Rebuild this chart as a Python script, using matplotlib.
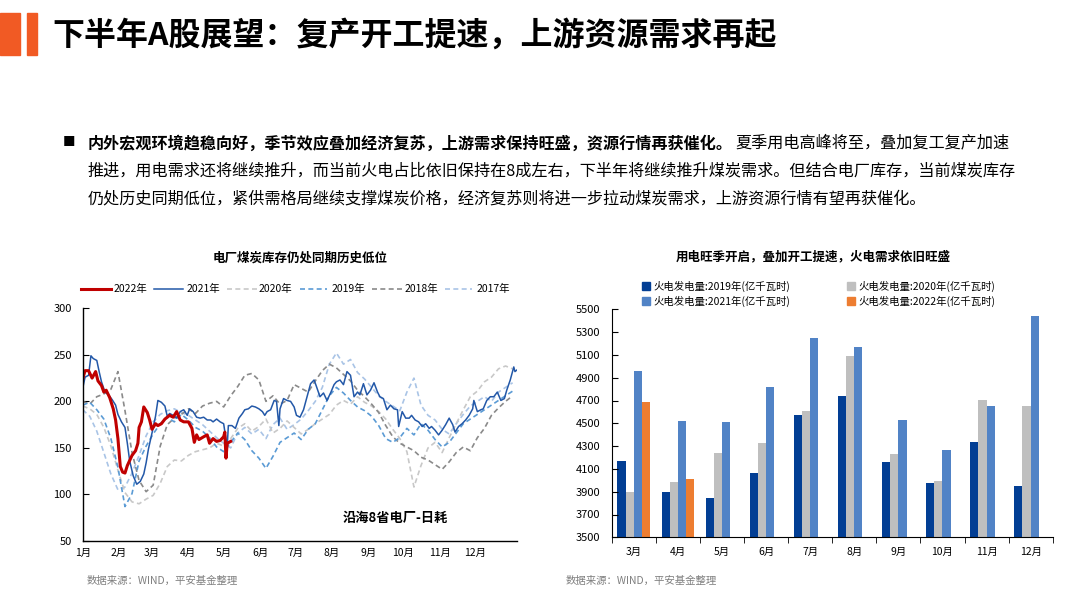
import matplotlib
matplotlib.use('Agg')
import matplotlib.pyplot as plt
import numpy as np
from matplotlib.patches import Rectangle
from matplotlib.lines import Line2D

plt.rcParams['font.family'] = ['Noto Sans CJK SC', 'DejaVu Sans']
plt.rcParams['axes.unicode_minus'] = False

# ---------------- data: left chart (coastal 8 provinces daily coal consumption) -------------
month_ticks_day = [0, 31, 59, 90, 120, 151, 181, 212, 243, 273, 304, 334]
month_labels = ['1月', '2月', '3月', '4月', '5月', '6月', '7月', '8月', '9月', '10月', '11月', '12月']

days_2022 = [0, 2, 5, 8, 11, 13, 16, 18, 20, 23, 26, 28, 30, 32, 34, 36, 38, 42, 45, 47, 48,
             50, 52, 55, 57, 59, 62, 64, 67, 70, 74, 77, 80, 83, 86, 90, 93, 95, 97, 99, 103,
             106, 108, 111, 114, 117, 120, 121, 122, 123, 126]
vals_2022 = [224, 233, 233, 225, 232, 222, 217, 210, 212, 204, 192, 180, 160, 130, 124, 123, 131, 142, 147, 155, 172,
             178, 194, 188, 180, 170, 176, 174, 176, 181, 185, 183, 189, 180, 178, 178, 171, 156, 164, 159, 162,
             164, 155, 160, 157, 158, 162, 167, 139, 155, 157]

days_2021 = [0, 2, 5, 7, 9, 12, 14, 16, 19, 22, 25, 28, 30, 33, 36, 38, 40, 43, 46, 49, 52, 54, 56, 59,
             62, 64, 67, 70, 72, 74, 77, 80, 83, 86, 89, 91, 94, 97, 100, 103, 106, 109, 111, 114, 117,
             120, 123, 124, 127, 130, 133, 136, 138, 141, 144, 147, 150, 153, 155, 157, 160, 163, 165,
             167, 168, 171, 174, 177, 180, 182, 185, 188, 191, 194, 197, 199, 202, 205, 208, 211, 214,
             216, 219, 222, 225, 228, 231, 234, 236, 239, 242, 245, 248, 251, 253, 256, 259, 262, 265,
             268, 269, 272, 275, 278, 280, 283, 286, 289, 292, 295, 297, 300, 303, 306, 309, 312, 315,
             317, 320, 323, 326, 329, 332, 333, 336, 339, 341, 344, 347, 350, 353, 356, 359, 361, 364,
             367, 368, 370]
vals_2021 = [214, 226, 228, 249, 246, 244, 232, 221, 210, 207, 202, 196, 186, 178, 172, 155, 136, 120, 111, 114, 122, 134, 149, 166,
             184, 201, 199, 195, 184, 187, 185, 182, 189, 191, 185, 192, 189, 183, 182, 183, 180, 180, 178, 181, 178,
             176, 151, 174, 174, 171, 182, 187, 191, 192, 195, 194, 192, 189, 185, 189, 191, 201, 200,
             174, 192, 203, 201, 200, 194, 185, 183, 191, 205, 219, 223, 216, 205, 209, 201, 209, 218,
             221, 223, 218, 232, 228, 205, 210, 207, 219, 207, 212, 220, 210, 205, 203, 191, 196, 192,
             191, 173, 189, 182, 182, 185, 180, 178, 173, 176, 171, 173, 169, 164, 169, 175, 182, 175,
             167, 173, 176, 180, 185, 192, 201, 189, 191, 192, 201, 205, 205, 210, 201, 203, 212, 223,
             237, 232, 234]

days_hist = list(range(0, 367, 6))
vals_2020 = [195, 192, 186, 172, 152, 126, 102, 92, 90, 95, 99, 112, 130, 137, 136, 142, 146, 148, 150, 155, 152,
             160, 171, 176, 168, 173, 181, 166, 171, 179, 172, 165, 170, 176, 181, 186, 196, 201, 197, 205,
             199, 195, 189, 181, 170, 160, 146, 108, 131, 150, 156, 145, 161, 176, 191, 205, 211, 221, 226, 235, 238, 235]
vals_2019 = [196, 199, 191, 181, 160, 129, 87, 101, 136, 152, 165, 176, 183, 178, 186, 180, 172, 168, 161, 151, 146,
             156, 166, 159, 147, 139, 128, 141, 156, 161, 166, 159, 170, 176, 191, 206, 215, 209, 201, 194,
             190, 184, 174, 160, 156, 161, 171, 164, 176, 169, 159, 151, 156, 166, 176, 181, 186, 191, 196, 201, 206, 211]
vals_2018 = [200, 197, 205, 208, 213, 232, 190, 145, 115, 103, 110, 152, 175, 182, 186, 192, 187, 195, 198, 200, 194,
             206, 216, 228, 230, 223, 200, 206, 197, 201, 218, 214, 210, 222, 233, 240, 236, 229, 222, 212,
             205, 197, 188, 174, 162, 155, 151, 147, 140, 137, 132, 127, 135, 145, 151, 147, 161, 171, 185, 193, 200, 206]
vals_2017 = [191, 184, 168, 145, 122, 105, 108, 123, 142, 163, 178, 186, 190, 192, 188, 185, 180, 175, 168, 161, 155,
             150, 166, 172, 165, 170, 160, 175, 182, 170, 175, 181, 190, 200, 215, 240, 252, 240, 245, 231,
             224, 215, 206, 200, 195, 190, 210, 225, 196, 185, 180, 170, 165, 176, 186, 195, 200, 205, 200, 210, 215, 220]

# ---------------- data: right chart (thermal power generation) ----------------
bar_months = ['3月', '4月', '5月', '6月', '7月', '8月', '9月', '10月', '11月', '12月']
gen_2019 = [4167, 3895, 3845, 4064, 4573, 4740, 4161, 3977, 4336, 3950]
gen_2020 = [3895, 3985, 4240, 4327, 4608, 5091, 4231, 3994, 4705, 4652]
gen_2021 = [4959, 4520, 4512, 4819, 5248, 5170, 4529, 4266, 4652, 5441]
gen_2022 = [4687, 4012]

W, H = 1076, 609
fig = plt.figure(figsize=(W / 100, H / 100), dpi=100)


def fx(px):
    return px / W


def fy(py):
    return 1 - py / H


# ---------------- header ----------------
fig.patches.append(Rectangle((fx(0), fy(55)), fx(20), 42 / H, transform=fig.transFigure,
                             color='#f15a24', zorder=5))
fig.patches.append(Rectangle((fx(27), fy(55)), fx(10), 42 / H, transform=fig.transFigure,
                             color='#f15a24', zorder=5))
fig.text(fx(52), fy(36), '下半年A股展望：复产开工提速，上游资源需求再起', fontsize=23,
         fontweight='bold', va='center', ha='left', color='black')

# bullet paragraph
PFS = 11.6
fig.text(fx(63), fy(143), '■', fontsize=9, va='center', ha='left', color='black')
bold_part = '内外宏观环境趋稳向好，季节效应叠加经济复苏，上游需求保持旺盛，资源行情再获催化。'
reg_part = '夏季用电高峰将至，叠加复工复产加速'
t1 = fig.text(fx(88), fy(143), bold_part, fontsize=PFS, fontweight='bold', va='center', ha='left')
fig.canvas.draw()
bb = t1.get_window_extent(renderer=fig.canvas.get_renderer())
fig.text(bb.x1 / W + fx(2), fy(143), reg_part, fontsize=PFS, va='center', ha='left')
fig.text(fx(88), fy(171), '推进，用电需求还将继续推升，而当前火电占比依旧保持在8成左右，下半年将继续推升煤炭需求。但结合电厂库存，当前煤炭库存',
         fontsize=PFS, va='center', ha='left')
fig.text(fx(88), fy(199), '仍处历史同期低位，紧供需格局继续支撑煤炭价格，经济复苏则将进一步拉动煤炭需求，上游资源行情有望再获催化。',
         fontsize=PFS, va='center', ha='left')

# ---------------- left chart ----------------
ax1 = fig.add_axes([fx(82.7), fy(541), (517.3 - 82.7) / W, (541 - 308.3) / H])
c2020, c2019, c2018, c2017 = '#c8c8c8', '#5b9bd5', '#8a8a8a', '#a9c4e6'
c2021, c2022 = '#2358a8', '#c00000'
dash = (3, 2)
ax1.plot(days_hist, vals_2017, color=c2017, lw=1.2, dashes=dash, label='2017年')
ax1.plot(days_hist, vals_2020, color=c2020, lw=1.2, dashes=dash, label='2020年')
ax1.plot(days_hist, vals_2018, color=c2018, lw=1.2, dashes=dash, label='2018年')
ax1.plot(days_hist, vals_2019, color=c2019, lw=1.2, dashes=dash, label='2019年')
ax1.plot(days_2021, vals_2021, color=c2021, lw=1.1, label='2021年')
ax1.plot(days_2022, vals_2022, color=c2022, lw=2.2, label='2022年')
ax1.set_xlim(0, 370)
ax1.set_ylim(50, 300)
ax1.set_yticks([50, 100, 150, 200, 250, 300])
ax1.set_xticks(month_ticks_day)
ax1.set_xticklabels(month_labels)
for s in ['top', 'right']:
    ax1.spines[s].set_visible(False)
for s in ['left', 'bottom']:
    ax1.spines[s].set_linewidth(1.0)
ax1.tick_params(axis='y', direction='in', length=4, labelsize=8, pad=8)
ax1.tick_params(axis='x', direction='out', length=0, labelsize=7.5, pad=5)
ax1.text(0.72, 0.1, '沿海8省电厂-日耗', transform=ax1.transAxes, fontsize=9.5,
         fontweight='bold', ha='center', va='center')

fig.text(fx(300), fy(258), '电厂煤炭库存仍处同期历史低位', fontsize=9, fontweight='bold',
         ha='center', va='center')

legend_items = [(81, 111, 114, '2022年', c2022, 2.2, None),
                (154, 183, 187, '2021年', c2021, 1.1, None),
                (227, 258, 259, '2020年', c2020, 1.2, dash),
                (300, 327, 332, '2019年', c2019, 1.2, dash),
                (372, 403, 405, '2018年', c2018, 1.2, dash),
                (445, 472, 477, '2017年', c2017, 1.2, dash)]
for x0, x1, xt, lab, col, lw, ds in legend_items:
    ln = Line2D([fx(x0), fx(x1)], [fy(289), fy(289)], transform=fig.transFigure,
                color=col, lw=lw)
    if ds:
        ln.set_dashes(ds)
    fig.add_artist(ln)
    fig.text(fx(xt), fy(289), lab, fontsize=7.5, ha='left', va='center')

fig.text(fx(87), fy(581), '数据来源：WIND，平安基金整理', fontsize=7.5, color='#7f7f7f',
         ha='left', va='center')

# ---------------- right chart ----------------
ax2 = fig.add_axes([fx(611.7), fy(537.3), (1052.7 - 611.7) / W, (537.3 - 309.3) / H])
x = np.arange(len(bar_months))
bw = 0.185
col19, col20, col21, col22 = '#023e94', '#bfbfbf', '#5183c6', '#ed7d31'
ax2.bar(x - 1.5 * bw, np.array(gen_2019) - 3500, bw, bottom=3500, color=col19)
ax2.bar(x - 0.5 * bw, np.array(gen_2020) - 3500, bw, bottom=3500, color=col20)
ax2.bar(x + 0.5 * bw, np.array(gen_2021) - 3500, bw, bottom=3500, color=col21)
x22 = x[:len(gen_2022)]
ax2.bar(x22 + 1.5 * bw, np.array(gen_2022) - 3500, bw, bottom=3500, color=col22)
ax2.set_xlim(-0.5, len(bar_months) - 0.5)
ax2.set_ylim(3500, 5500)
ax2.set_yticks(np.arange(3500, 5501, 200))
ax2.set_xticks(x)
ax2.set_xticklabels(bar_months)
ax2.set_xticks(np.arange(-0.5, len(bar_months)), minor=True)
ax2.tick_params(axis='x', which='major', length=0, labelsize=7.5, pad=7)
ax2.tick_params(axis='x', which='minor', direction='out', length=4)
ax2.tick_params(axis='y', direction='in', length=4, labelsize=8, pad=8)
for s in ['top', 'right']:
    ax2.spines[s].set_visible(False)

fig.text(fx(813), fy(257), '用电旺季开启，叠加开工提速，火电需求依旧旺盛', fontsize=9,
         fontweight='bold', ha='center', va='center')

leg2 = [(646, 286, '火电发电量:2019年(亿千瓦时)', col19),
        (851, 286, '火电发电量:2020年(亿千瓦时)', col20),
        (646, 301, '火电发电量:2021年(亿千瓦时)', col21),
        (851, 301, '火电发电量:2022年(亿千瓦时)', col22)]
for px, py, lab, col in leg2:
    fig.patches.append(Rectangle((fx(px - 4), fy(py + 4)), 8 / W, 8 / H,
                                 transform=fig.transFigure, color=col))
    fig.text(fx(px + 7), fy(py), lab, fontsize=7.5, ha='left', va='center')

fig.text(fx(566), fy(581), '数据来源：WIND，平安基金整理', fontsize=7.5, color='#7f7f7f',
         ha='left', va='center')

fig.savefig('out.png', dpi=100)
